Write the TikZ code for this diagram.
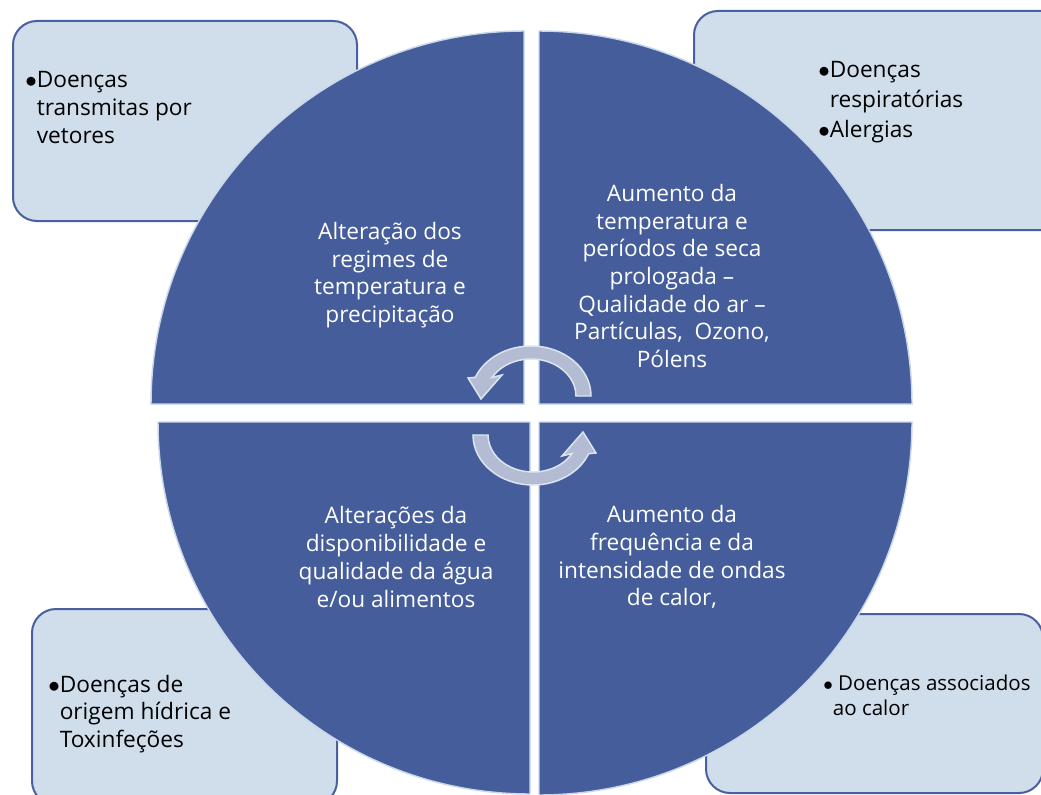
\documentclass[tikz,border=0pt]{standalone}
\usepackage{fontspec}
\setmainfont{Open Sans}
\definecolor{quadfill}{HTML}{455D9B}
\definecolor{quadline}{HTML}{C8D8EA}
\definecolor{notefill}{HTML}{D0DEEC}
\definecolor{noteline}{HTML}{4860A0}
\definecolor{turnfill}{HTML}{B4BCD3}
\definecolor{turnline}{HTML}{DCE6F2}
\usetikzlibrary{positioning, calc}

\begin{document}
\begin{tikzpicture}[x=0.75pt, y=-0.75pt, every node/.style={font=\fontsize{17}{20.8}\selectfont},
    notebox/.style={rounded corners=18pt, draw=noteline, fill=notefill, line width=1.5pt, inner sep=0pt},
    quadrant/.style={fill=quadfill, draw=quadline, line width=1.1pt},
    turn/.style={fill=turnfill, draw=turnline, line width=1.1pt},
    qtext/.style={text=white, align=center},
    ntext/.style={anchor=base west, inner sep=0pt}]
\path[use as bounding box, clip] (0,0) rectangle (1041,795);
\fill[white] (0,0) rectangle (1041,795);

\node[notebox, minimum width=258pt, minimum height=150pt] (vet) at (185,121) {};
\node[notebox, minimum width=278.25pt, minimum height=164.25pt] (resp) at (879.5,120.5) {};
\node[notebox, minimum width=228.75pt, minimum height=147pt] (hid) at (184.5,707) {};
\node[notebox, minimum width=252.75pt, minimum height=134.25pt] (cal) at (874.5,703.5) {};

\coordinate (tl) at (524,404);
\coordinate (tr) at (539,404);
\coordinate (bl) at (530,422);
\coordinate (br) at (539,422);
\coordinate (hub) at (532,415.5);

\draw[quadrant] (tl) -- ++(-373,0) arc[start angle=180, end angle=270, radius=373] -- cycle;
\draw[quadrant] (tr) -- ++(0,-373) arc[start angle=270, end angle=360, radius=373] -- cycle;
\draw[quadrant] (br) -- ++(373,0) arc[start angle=0, end angle=90, radius=373] -- cycle;
\draw[quadrant] (bl) -- ++(0,372) arc[start angle=90, end angle=180, radius=372] -- cycle;

\foreach \r in {0,180}
  \path[turn, rotate around={\r:(hub)}] (591,396) arc[start angle=0, end angle=-158, x radius=60, y radius=50]
    -- (468,378) -- (481,399) -- (502,375) -- (492,377.5)
    arc[start angle=-150, end angle=0, x radius=45, y radius=37] -- cycle;

\node[qtext] (regimes) at (390,275) {Alteração dos\\regimes de\\temperatura e\\precipitação};
\node[qtext] (seca) at (672,276) {Aumento da\\temperatura e\\períodos de seca\\prologada --\\Qualidade do ar --\\Partículas,~ Ozono,\\Pólens};
\node[qtext] (agua) at (396,557) {Alterações da\\disponibilidade e\\qualidade da água\\e/ou alimentos};
\node[qtext] (ondas) at (672,557) {Aumento da\\frequência e da\\intensidade de ondas\\de calor,};

\node[ntext] (vet-t) at (25,88) {\begin{tabular}[t]{@{}l@{}l@{}}$\bullet$ & Doenças\\ & transmitas por\\ & vetores\end{tabular}};
\node[ntext] (resp-t) at (818,78) {\begin{tabular}[t]{@{}l@{}l@{}}$\bullet$ & Doenças\\[1.5pt] & respiratórias\\[1.5pt] $\bullet$ & Alergias\end{tabular}};
\node[ntext] (hid-t) at (48,692) {\begin{tabular}[t]{@{}l@{}l@{}}$\bullet$ & Doenças de\\ & origem hídrica e\\ & Toxinfeções\end{tabular}};
\node[ntext, font=\fontsize{15.4}{18.8}\selectfont] (cal-t) at (823,690) {\begin{tabular}[t]{@{}l@{}l@{}}$\bullet$ & \ Doenças associados\\ & ao calor\end{tabular}};
\end{tikzpicture}
\end{document}
